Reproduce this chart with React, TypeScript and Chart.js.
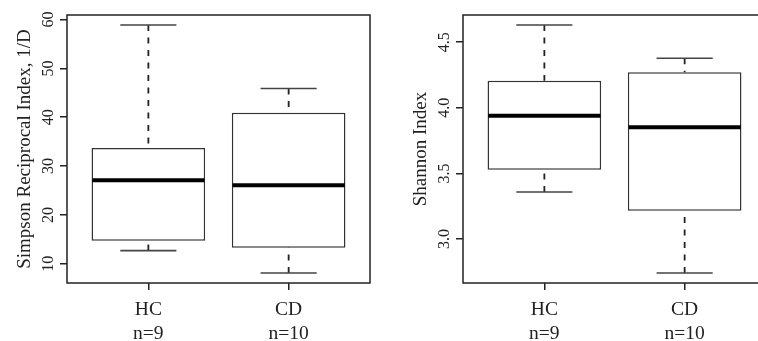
import React, { useEffect, useRef } from "react";
import { Chart, registerables } from "chart.js";

Chart.register(...registerables);

// ---- data ----
const groups = ["HC", "CD"];
const groupN = ["n=9", "n=10"];

// Simpson reciprocal index (1/D): [min, q1, median, q3, max]
const simpsonHC = [12.7, 14.7, 27.1, 33.7, 58.9];
const simpsonCD = [8.1, 13.3, 26.1, 40.9, 45.9];
const simpsonTicks = [10, 20, 30, 40, 50, 60];
const simpsonTitle = "Simpson Reciprocal Index, 1/D";

// Shannon index: [min, q1, median, q3, max]
const shannonHC = [3.358, 3.528, 3.94, 4.207, 4.632];
const shannonCD = [2.74, 3.215, 3.852, 4.271, 4.378];
const shannonTicks = [3.0, 3.5, 4.0, 4.5];
const shannonTickLabels = ["3.0", "3.5", "4.0", "4.5"];
const shannonTitle = "Shannon Index";

const SERIF = "'Liberation Serif', 'DejaVu Serif', serif";

type Panel = {
  stats: number[][];
  ticks: number[];
  tickLabels: string[];
  title: string;
};

const boxPlugin = {
  id: "rbox",
  beforeDatasetsDraw(chart: any) {
    const { ctx } = chart;
    const xs = chart.scales.x;
    const ys = chart.scales.y;
    const stats: number[][] = chart.options.plugins.rbox.stats;
    ctx.save();
    stats.forEach((s, i) => {
      const cx = xs.getPixelForValue(i + 1);
      const capL = xs.getPixelForValue(i + 1 - 0.2);
      const capR = xs.getPixelForValue(i + 1 + 0.2);
      // dashed whiskers, drawn from the cap toward the box
      ctx.strokeStyle = "#222";
      ctx.lineWidth = 1.8;
      ctx.setLineDash([6, 6.5]);
      ctx.beginPath();
      ctx.moveTo(cx, ys.getPixelForValue(s[4]));
      ctx.lineTo(cx, ys.getPixelForValue(s[3]));
      ctx.moveTo(cx, ys.getPixelForValue(s[0]));
      ctx.lineTo(cx, ys.getPixelForValue(s[1]));
      ctx.stroke();
      // caps
      ctx.setLineDash([]);
      ctx.strokeStyle = "#444";
      ctx.lineWidth = 1.6;
      ctx.beginPath();
      ctx.moveTo(capL, ys.getPixelForValue(s[4]));
      ctx.lineTo(capR, ys.getPixelForValue(s[4]));
      ctx.moveTo(capL, ys.getPixelForValue(s[0]));
      ctx.lineTo(capR, ys.getPixelForValue(s[0]));
      ctx.stroke();
    });
    ctx.restore();
  },
  afterDatasetsDraw(chart: any) {
    const { ctx } = chart;
    const xs = chart.scales.x;
    const ys = chart.scales.y;
    const stats: number[][] = chart.options.plugins.rbox.stats;
    ctx.save();
    stats.forEach((s, i) => {
      const l = xs.getPixelForValue(i + 1 - 0.4);
      const r = xs.getPixelForValue(i + 1 + 0.4);
      const y = ys.getPixelForValue(s[2]);
      ctx.strokeStyle = "#000";
      ctx.lineWidth = 4;
      ctx.beginPath();
      ctx.moveTo(l, y);
      ctx.lineTo(r, y);
      ctx.stroke();
    });
    ctx.restore();
  },
  afterDraw(chart: any) {
    const { ctx, chartArea } = chart;
    const xs = chart.scales.x;
    const ys = chart.scales.y;
    const o = chart.options.plugins.rbox;
    ctx.save();
    // frame
    ctx.strokeStyle = "#222";
    ctx.lineWidth = 1.5;
    ctx.strokeRect(
      chartArea.left,
      chartArea.top,
      chartArea.right - chartArea.left,
      chartArea.bottom - chartArea.top
    );
    ctx.fillStyle = "#222";
    // y tick labels (rotated)
    ctx.font = `16px ${SERIF}`;
    ctx.textAlign = "center";
    ctx.textBaseline = "middle";
    o.ticks.forEach((v: number, k: number) => {
      const y = ys.getPixelForValue(v);
      ctx.save();
      ctx.translate(chartArea.left - 18.5, y);
      ctx.rotate(-Math.PI / 2);
      ctx.fillText(o.tickLabels[k], 0, 0);
      ctx.restore();
    });
    // y title
    ctx.font = `19px ${SERIF}`;
    ctx.textBaseline = "alphabetic";
    ctx.save();
    ctx.translate(chartArea.left - 37.5, (chartArea.top + chartArea.bottom) / 2);
    ctx.rotate(-Math.PI / 2);
    ctx.fillText(o.title, 0, 0);
    ctx.restore();
    // x labels
    ctx.font = `19.5px ${SERIF}`;
    groups.forEach((g, i) => {
      const x = xs.getPixelForValue(i + 1);
      ctx.fillText(g, x, chartArea.bottom + 32);
      ctx.fillText(groupN[i], x, chartArea.bottom + 56);
    });
    ctx.restore();
  },
};

function rLimits(stats: number[][]) {
  const lo = Math.min(...stats.map((s) => s[0]));
  const hi = Math.max(...stats.map((s) => s[4]));
  const pad = (hi - lo) * 0.04;
  return [lo - pad, hi + pad];
}

function BoxPanel({ panel }: { panel: Panel }) {
  const ref = useRef<HTMLCanvasElement>(null);
  useEffect(() => {
    const [ymin, ymax] = rLimits(panel.stats);
    const chart = new Chart(ref.current!, {
      type: "bar",
      data: {
        datasets: [
          {
            data: panel.stats.map((s, i) => ({ x: i + 1, y: [s[1], s[3]] })) as any,
            backgroundColor: "#ffffff",
            borderColor: "#333",
            borderWidth: 1.5,
            borderSkipped: false,
            barPercentage: 0.81,
            categoryPercentage: 1,
          },
        ],
      },
      options: {
        responsive: false,
        animation: false,
        events: [],
        layout: { padding: { left: 0, right: 26, top: 15, bottom: 0 } },
        plugins: {
          legend: { display: false },
          tooltip: { enabled: false },
          rbox: {
            stats: panel.stats,
            ticks: panel.ticks,
            tickLabels: panel.tickLabels,
            title: panel.title,
          },
        } as any,
        scales: {
          x: {
            type: "linear",
            min: 0.42,
            max: 2.58,
            offset: false,
            afterBuildTicks: (s: any) => {
              s.ticks = groups.map((_, i) => ({ value: i + 1 }));
            },
            afterFit: (s: any) => {
              s.height = 58;
            },
            ticks: { display: false },
            grid: {
              display: true,
              drawOnChartArea: false,
              drawTicks: true,
              tickLength: 7,
              color: "#222",
              lineWidth: 1.5,
              offset: false,
            },
            border: { display: false },
          },
          y: {
            type: "linear",
            min: ymin,
            max: ymax,
            afterBuildTicks: (s: any) => {
              s.ticks = panel.ticks.map((v) => ({ value: v }));
            },
            afterFit: (s: any) => {
              s.width = 67;
            },
            ticks: { display: false },
            grid: {
              display: true,
              drawOnChartArea: false,
              drawTicks: true,
              tickLength: 7,
              color: "#222",
              lineWidth: 1.5,
            },
            border: { display: false },
          },
        },
      },
      plugins: [boxPlugin],
    });
    return () => chart.destroy();
  }, [panel]);
  return <canvas ref={ref} width={396} height={341} style={{ display: "block" }} />;
}

const leftPanel: Panel = {
  stats: [simpsonHC, simpsonCD],
  ticks: simpsonTicks,
  tickLabels: simpsonTicks.map(String),
  title: simpsonTitle,
};
const rightPanel: Panel = {
  stats: [shannonHC, shannonCD],
  ticks: shannonTicks,
  tickLabels: shannonTickLabels,
  title: shannonTitle,
};

export default function App() {
  return (
    <div
      style={{
        position: "fixed",
        left: 0,
        top: 0,
        width: 758,
        height: 341,
        overflow: "hidden",
        background: "#fff",
      }}
    >
      <div style={{ position: "absolute", left: 0, top: 0 }}>
        <BoxPanel panel={leftPanel} />
      </div>
      <div style={{ position: "absolute", left: 396, top: 0 }}>
        <BoxPanel panel={rightPanel} />
      </div>
    </div>
  );
}
